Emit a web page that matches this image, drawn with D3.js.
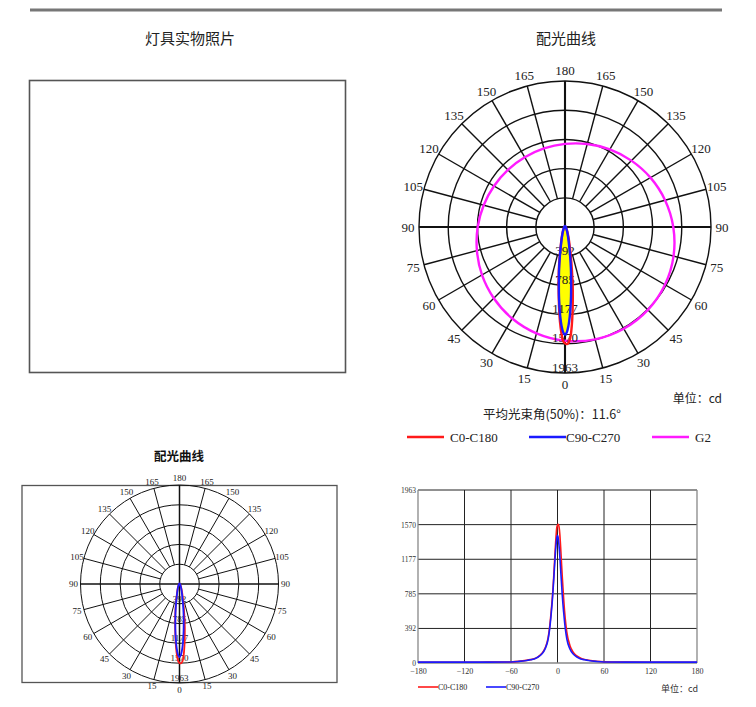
<!DOCTYPE html>
<html><head><meta charset="utf-8">
<script src="https://cdn.jsdelivr.net/npm/d3@7"></script>
<style>
html,body{margin:0;padding:0;background:#fff;}
svg{display:block;}
</style></head>
<body>
<svg id="chart" width="756" height="707"></svg>
<script>
// ---------------- DATA ----------------
const cdTicks = [392, 785, 1177, 1570, 1963];
const cdMax = 1963;
const angleLabels = [0, 15, 30, 45, 60, 75, 90, 105, 120, 135, 150, 165, 180];
const xTicks = [-180, -120, -60, 0, 60, 120, 180];
const gammaAngles = [-180,-150,-120,-90,-60,-50,-40,-35,-30,-25,-20,-16,-12,-10,-8,-6,-5,-4,-3,-2,-1,0,1,2,3,4,5,6,7,8,10,12,16,20,25,30,35,40,50,60,90,120,150,180];
const c0c180 = [8,8,8,10,12,18,30,38,48,70,110,170,290,420,600,820,960,1120,1280,1420,1530,1565,1575,1545,1460,1320,1160,1000,860,720,500,350,200,125,80,55,40,32,20,14,10,8,8,8];
const c90c270 = [10,10,10,10,12,18,28,36,46,68,105,160,275,395,570,790,930,1070,1210,1330,1415,1450,1415,1330,1210,1070,930,790,670,570,395,275,160,105,68,46,36,28,18,12,10,10,10,10];
const g2Angles = [0,15,30,45,60,75,90,105,120,135,150,165,180,195,210,225,240,255,270,285,300,315,330,345];
const g2Values = [1529,1564,1580,1576,1552,1511,1456,1393,1327,1262,1205,1155,1117,1093,1082,1086,1102,1132,1174,1226,1289,1354,1420,1480];
const legendNames = ["C0-C180", "C90-C270", "G2"];
const beamText = "平均光束角(50%)：11.6°";
const unitText = "单位：cd";

// ---------------- STYLE ----------------
const RED = "#ff1a1a", BLUE = "#1a1aff", MAG = "#ff1aff";
const SERIF = "'Liberation Serif','DejaVu Serif',serif";
const CJK = "'Noto Sans CJK SC','Noto Sans CJK JP',sans-serif";

const svg = d3.select("#chart");

// top rule
svg.append("line").attr("x1", 30).attr("x2", 722).attr("y1", 10).attr("y2", 10)
  .attr("stroke", "#777").attr("stroke-width", 3);

// titles
svg.append("text").attr("x", 190).attr("y", 37).attr("text-anchor", "middle").attr("dominant-baseline", "central")
  .style("font-family", CJK).style("font-size", "15px").attr("fill", "#222").text("灯具实物照片");
svg.append("text").attr("x", 566).attr("y", 37).attr("text-anchor", "middle").attr("dominant-baseline", "central")
  .style("font-family", CJK).style("font-size", "15px").attr("fill", "#222").text("配光曲线");

// photo box
svg.append("rect").attr("x", 29.5).attr("y", 80.5).attr("width", 316).attr("height", 292)
  .attr("fill", "none").attr("stroke", "#555").attr("stroke-width", 1.6);

function drawPolar(g, o) {
  const r = d3.scaleLinear().domain([0, cdMax]).range([0, o.R]);
  const cx = o.cx, cy = o.cy;
  const grid = g.append("g").attr("stroke", "#111").attr("fill", "none");
  cdTicks.forEach(t => grid.append("circle").attr("cx", cx).attr("cy", cy).attr("r", r(t)).attr("stroke-width", o.gw));
  for (let a = 0; a < 360; a += 15) {
    const rad = a * Math.PI / 180;
    const r0 = (a % 90 === 0) ? 0 : r(cdTicks[0]);
    grid.append("line")
      .attr("x1", cx + r0 * Math.sin(rad)).attr("y1", cy + r0 * Math.cos(rad))
      .attr("x2", cx + o.R * Math.sin(rad)).attr("y2", cy + o.R * Math.cos(rad))
      .attr("stroke-width", (a % 90 === 0) ? o.gw * 1.5 : o.gw);
  }
  // angle labels
  const lab = g.append("g").style("font-family", SERIF).style("font-size", o.af + "px").attr("fill", "#222")
    .attr("text-anchor", "middle").attr("dominant-baseline", "central");
  angleLabels.forEach(a => {
    const rad = a * Math.PI / 180;
    const sides = (a === 0 || a === 180) ? [1] : [1, -1];
    sides.forEach(s => lab.append("text")
      .attr("x", cx + s * o.LR * Math.sin(rad)).attr("y", cy + o.LR * Math.cos(rad)).text(a));
  });

  const radial = d3.lineRadial().curve(d3.curveCatmullRomClosed)
    .angle(d => Math.PI - d[0] * Math.PI / 180).radius(d => r(d[1]));
  const cg = g.append("g").attr("transform", `translate(${cx},${cy})`);
  const redPts = gammaAngles.slice(0, -1).map((a, i) => [a, c0c180[i]]);
  const bluePts = gammaAngles.slice(0, -1).map((a, i) => [a, c90c270[i]]);
  if (o.g2) {
    cg.append("path").datum(g2Angles.map((a, i) => [a, g2Values[i]]))
      .attr("d", radial).attr("fill", "none").attr("stroke", MAG).attr("stroke-width", o.lw);
  }
  if (o.fill) {
    cg.append("path").datum(bluePts).attr("d", radial).attr("fill", "#ffff00").attr("stroke", "none");
  }
  // value labels
  const vl = g.append("g").style("font-family", SERIF).style("font-size", o.vf + "px").attr("fill", "#222")
    .attr("text-anchor", "middle").attr("dominant-baseline", "central");
  cdTicks.forEach(t => vl.append("text").attr("x", cx).attr("y", cy + r(t) - o.vo).text(t));

  const cg2 = g.append("g").attr("transform", `translate(${cx},${cy})`);
  cg2.append("path").datum(redPts).attr("d", radial).attr("fill", "none").attr("stroke", RED).attr("stroke-width", o.lw);
  cg2.append("path").datum(bluePts).attr("d", radial).attr("fill", "none").attr("stroke", BLUE).attr("stroke-width", o.lw);
}

// top polar
drawPolar(svg.append("g"), {cx: 565, cy: 227, R: 146, gw: 1.4, af: 13, LR: 157, vf: 13, vo: 6, lw: 2.4, fill: true, g2: true});

// top texts
svg.append("text").attr("x", 722).attr("y", 397).attr("text-anchor", "end").attr("dominant-baseline", "central")
  .style("font-family", CJK).style("font-size", "12px").attr("fill", "#222").text(unitText);
svg.append("text").attr("x", 483).attr("y", 413).attr("dominant-baseline", "central")
  .style("font-family", CJK).style("font-size", "12.5px").attr("fill", "#222").text(beamText);
const legTop = [[407, 450, RED], [529, 566, BLUE], [652, 695, MAG]];
legTop.forEach((l, i) => {
  svg.append("line").attr("x1", l[0]).attr("x2", l[0] + 37).attr("y1", 437).attr("y2", 437)
    .attr("stroke", l[2]).attr("stroke-width", 2.4);
  svg.append("text").attr("x", l[1]).attr("y", 437).attr("dominant-baseline", "central")
    .style("font-family", SERIF).style("font-size", "13px").attr("fill", "#222").text(legendNames[i]);
});

// bottom-left
svg.append("text").attr("x", 179).attr("y", 455).attr("text-anchor", "middle").attr("dominant-baseline", "central")
  .style("font-family", CJK).style("font-size", "12.5px").style("font-weight", "bold").attr("fill", "#111").text("配光曲线");
svg.append("rect").attr("x", 22).attr("y", 485.5).attr("width", 315).attr("height", 197)
  .attr("fill", "none").attr("stroke", "#555").attr("stroke-width", 1.3);
drawPolar(svg.append("g"), {cx: 179.5, cy: 584, R: 99, gw: 1.0, af: 9, LR: 106, vf: 9, vo: 5, lw: 1.8, fill: false, g2: false});

// bottom-right line chart
const x = d3.scaleLinear().domain([-180, 180]).range([418, 697]);
const y = d3.scaleLinear().domain([0, cdMax]).range([663, 490]);
const lc = svg.append("g");
lc.append("g").selectAll("line").data(cdTicks).join("line")
  .attr("x1", x(-180)).attr("x2", x(180)).attr("y1", d => y(d)).attr("y2", d => y(d))
  .attr("stroke", "#222").attr("stroke-width", 1);
lc.append("g").selectAll("line").data(xTicks.slice(1, -1)).join("line")
  .attr("x1", d => x(d)).attr("x2", d => x(d)).attr("y1", y(0)).attr("y2", y(cdMax))
  .attr("stroke", "#222").attr("stroke-width", 1);
[ -180, 180 ].forEach(v => lc.append("line").attr("x1", x(v)).attr("x2", x(v)).attr("y1", y(0)).attr("y2", y(cdMax))
  .attr("stroke", "#888").attr("stroke-width", 1.3));
lc.append("line").attr("x1", x(-180)).attr("x2", x(180)).attr("y1", y(0)).attr("y2", y(0)).attr("stroke", "#888").attr("stroke-width", 1.3);

const yAxis = d3.axisLeft(y).tickValues([0].concat(cdTicks)).tickSize(0).tickPadding(2).tickFormat(d => d);
lc.append("g").attr("transform", `translate(${x(-180)},0)`).call(yAxis)
  .call(gg => gg.select(".domain").remove())
  .selectAll("text").style("font-family", SERIF).style("font-size", "7.5px").attr("fill", "#333");
const xAxis = d3.axisBottom(x).tickValues(xTicks).tickSize(0).tickPadding(5).tickFormat(d => d < 0 ? "−" + (-d) : d);
lc.append("g").attr("transform", `translate(0,${y(0)})`).call(xAxis)
  .call(gg => gg.select(".domain").remove())
  .selectAll("text").style("font-family", SERIF).style("font-size", "8px").attr("fill", "#333");

const line = d3.line().x(d => x(d[0])).y(d => y(d[1])).curve(d3.curveMonotoneX);
lc.append("path").datum(gammaAngles.map((a, i) => [a, c0c180[i]])).attr("d", line)
  .attr("fill", "none").attr("stroke", RED).attr("stroke-width", 1.6);
lc.append("path").datum(gammaAngles.map((a, i) => [a, c90c270[i]])).attr("d", line)
  .attr("fill", "none").attr("stroke", BLUE).attr("stroke-width", 1.6);

// line chart legend
[[418, 438, RED, 0], [486, 506, BLUE, 1]].forEach(l => {
  svg.append("line").attr("x1", l[0]).attr("x2", l[0] + 20).attr("y1", 687).attr("y2", 687)
    .attr("stroke", l[2]).attr("stroke-width", 1.6);
  svg.append("text").attr("x", l[1]).attr("y", 687).attr("dominant-baseline", "central")
    .style("font-family", SERIF).style("font-size", "8px").attr("fill", "#222").text(legendNames[l[3]]);
});
svg.append("text").attr("x", 698).attr("y", 688).attr("text-anchor", "end").attr("dominant-baseline", "central")
  .style("font-family", CJK).style("font-size", "9px").attr("fill", "#333").text("单位：cd");
</script>
</body></html>
